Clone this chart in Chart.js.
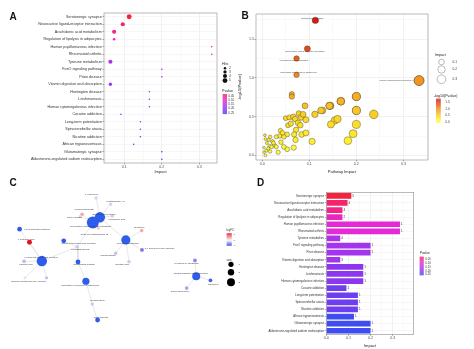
<!DOCTYPE html>
<html>
<head>
<meta charset="utf-8">
<script src="https://cdn.jsdelivr.net/npm/chart.js@4.4.0/dist/chart.umd.min.js"></script>
<style>
  body { margin: 0; background: #fff; width: 474px; height: 349px; overflow: hidden; position: relative; }
  canvas { position: absolute; }
</style>
</head>
<body>
<canvas id="chartA" width="237" height="175" style="left:0;top:0"></canvas>
<canvas id="chartB" width="237" height="175" style="left:237px;top:0"></canvas>
<canvas id="chartC" width="245" height="174" style="left:0;top:175px"></canvas>
<canvas id="chartD" width="237" height="174" style="left:237px;top:175px"></canvas>
<script>
// ---- enrichment results (panels A, B, D) ----
const pathways = [
  'Serotonergic synapse', 'Neuroactive ligand-receptor interaction', 'Arachidonic acid metabolism',
  'Regulation of lipolysis in adipocytes', 'Human papillomavirus infection', 'Rheumatoid arthritis',
  'Tyrosine metabolism', 'FoxO signaling pathway', 'Prion disease', 'Vitamin digestion and absorption',
  'Huntington disease', 'Leishmaniasis', 'Human cytomegalovirus infection', 'Cocaine addiction',
  'Long-term potentiation', 'Spinocerebellar ataxia', 'Nicotine addiction', 'African trypanosomiasis',
  'Glutamatergic synapse', 'Aldosterone-regulated sodium reabsorption'
];
const impact = [0.113, 0.096, 0.073, 0.073, 0.333, 0.333, 0.063, 0.2, 0.2, 0.063,
  0.167, 0.167, 0.167, 0.091, 0.143, 0.143, 0.143, 0.125, 0.2, 0.2];
const pvalue = [0.018, 0.042, 0.056, 0.091, 0.108, 0.108, 0.162, 0.174, 0.174, 0.174,
  0.2, 0.2, 0.2, 0.229, 0.229, 0.229, 0.229, 0.263, 0.263, 0.263];
const hits = [5, 4, 4, 2, 1, 1, 4, 1, 1, 3, 1, 1, 1, 1, 1, 1, 1, 1, 1, 1];
const hitsBreaks = [2, 3, 4, 5];
const pvalueBreaks = [0.05, 0.10, 0.15, 0.20, 0.25];

// panel B: the other (unlabelled) pathways
const otherImpact = [0.154, 0.160, 0.146, 0.193, 0.182, 0.106, 0.112, 0.237,
  0.050, 0.058, 0.066, 0.070, 0.078, 0.083, 0.093, 0.055, 0.061, 0.076, 0.081, 0.072,
  0.068, 0.084, 0.093, 0.071, 0.067, 0.053, 0.046, 0.039, 0.043, 0.037, 0.030, 0.053,
  0.034, 0.026, 0.022, 0.030, 0.017, 0.014, 0.010, 0.016, 0.007, 0.006, 0.009, 0.004,
  0.007, 0.013, 0.020, 0.024, 0.046, 0.040, 0.004, 0.017, 0.087, 0.128, 0.145, 0.200];
const otherLogP = [0.45, 0.47, 0.40, 0.28, 0.19, 0.18, 0.53, 0.53,
  0.48, 0.49, 0.50, 0.47, 0.54, 0.49, 0.46, 0.39, 0.41, 0.42, 0.39, 0.33,
  0.27, 0.27, 0.29, 0.20, 0.10, 0.27, 0.24, 0.32, 0.29, 0.25, 0.24, 0.08,
  0.04, 0.13, 0.18, 0.11, 0.24, 0.20, 0.16, 0.12, 0.21, 0.26, 0.06, 0.04,
  0.00, 0.09, 0.11, 0.16, 0.11, 0.17, 0.10, 0.05, 0.53, 0.58, 0.64, 0.40];
const labelledInB = [0, 1, 2, 3, 4];
const impactBreaks = [0.1, 0.2, 0.3];
const logPBreaks = [1.5, 1.0, 0.5, 0.0];

// ---- panel C: compound / pathway network ----
const nodeNames = [
  'Serotonergic synapse', 'Neuroactive ligand-receptor interaction', 'Tyrosine metabolism',
  'Human papillomavirus infection', 'Vitamin digestion and absorption', 'Regulation of lipolysis in adipocytes',
  'FoxO signaling pathway', 'Human cytomegalovirus infection', 'Rheumatoid arthritis', 'Prion disease',
  'Riboflavin', '1-Undecene', 'Prostaglandin A2', 'Hexadecanedioate', 'Indoxyl sulfate',
  'Arachidonic acid', 'Delta 12-Prostaglandin J2', 'Serotonin', '3,4-Dihydroxyphenylacetate',
  'Homogentisate', 'Gentisic acid', 'L-Glutamic acid', 'Prostaglandin E2', 'Palmitic acid',
  'Nicotine', 'gamma-Glutamylglycine', 'Noradrenaline', "Pyridoxal 5'-phosphate", 'alpha-Tocopherol'
];
const nodeX = [98.7, 91.3, 126, 37.7, 200, 84, 14.3, 60.7, 75.7, 96.3,
  215, 94.7, 110, 80, 78, 111.7, 97, 142.7, 143, 115.3, 129.3, 24.7, 75, 19, 42.7, 20, 90.7, 198.7, 190];
const nodeY = [39, 44.7, 63.3, 86, 102.3, 107.7, 51.7, 64.3, 87, 149.3,
  106.7, 18.3, 25, 35.7, 38, 37.7, 50.7, 53.3, 74, 77.7, 86.7, 65.7, 70.7, 86.3, 104, 104, 132, 85.3, 115];
const nodeScore = [5, 6, 4.2, 5, 3.5, 3, 1.5, 1.5, 1.5, 1.5,
  0.8, 0.6, 0.6, 0.7, 0.5, 0.6, 0.5, 0.7, 0.9, 0.7, 0.7, 1.6, 0.7, 0.7, 0.6, 0.4, 0.7, 0.8, 0.8];
const nodeFC = [-1, -1, -1, -1, -1, -1, -1, -1, -1, -1,
  -0.9, -0.2, -0.2, 0.4, 0.15, -0.25, 0.2, 0.35, -0.55, -0.3, -0.25, 1.2, -0.25, -0.35, -0.3, -0.1, -0.25, -0.5, -0.4];
const edgeFrom = [0, 0, 0, 0, 0, 1, 1, 1, 1, 22, 22, 22, 8, 5, 26, 3, 3, 3, 3, 3, 2, 2, 2, 2, 4, 4, 4];
const edgeTo = [1, 11, 12, 15, 2, 13, 14, 16, 22, 3, 7, 8, 5, 26, 9, 6, 21, 23, 24, 25, 17, 18, 19, 20, 27, 28, 10];
const fcBreaks = [1, 0, -1];

const FONT = '"Liberation Sans", Arial, sans-serif';

function hexToRgb(h) {
  return [parseInt(h.slice(1, 3), 16), parseInt(h.slice(3, 5), 16), parseInt(h.slice(5, 7), 16)];
}
function rampColor(stops, v) {
  if (v <= stops[0][0]) return stops[0][1];
  for (let i = 1; i < stops.length; i++) {
    if (v <= stops[i][0]) {
      const t = (v - stops[i - 1][0]) / (stops[i][0] - stops[i - 1][0]);
      const a = hexToRgb(stops[i - 1][1]), b = hexToRgb(stops[i][1]);
      return `rgb(${a.map((c, k) => Math.round(c + (b[k] - c) * t)).join(',')})`;
    }
  }
  return stops[stops.length - 1][1];
}
const pStops = [[0.018, '#f5213d'], [0.06, '#f2248f'], [0.11, '#e22ad8'], [0.17, '#a733ee'], [0.22, '#7a3af0'], [0.263, '#3f4cf2']];
const logPStops = [[0, '#ffff3c'], [0.45, '#fbd926'], [0.75, '#f5ae24'], [1.0, '#f1901e'], [1.3, '#ea5418'], [1.75, '#d91616']];
const fcStops = [[-1, '#2e5ced'], [-0.6, '#7466e6'], [-0.3, '#c7c2f0'], [0, '#f4f2f8'], [0.4, '#f2a3a8'], [1.2, '#e8101e']];
const pColor = p => rampColor(pStops, p);
const logPColor = v => rampColor(logPStops, v);
const fcColor = v => rampColor(fcStops, v);
const hitRadius = h => h <= 1 ? 0.8 : 0.45 + h * 0.4;
const impactRadius = x => 0.85 + 7.1 * Math.sqrt(x);

function isMajor(v, step) {
  const k = v / step;
  return Math.abs(k - Math.round(k)) < 1e-6;
}
function linearAxis(step, major, extra) {
  return Object.assign({
    type: 'linear',
    ticks: {
      stepSize: step, includeBounds: false, autoSkip: false, maxRotation: 0, padding: 0.5,
      font: { family: FONT, size: 3.6 }, color: '#4d4d4d',
      callback: v => isMajor(v, major) ? v.toFixed(1) : ''
    },
    grid: {
      lineWidth: 0.5, tickLength: 1.5,
      color: ctx => isMajor(ctx.tick ? ctx.tick.value : 0, major) ? '#e2e2e2' : '#f2f2f2',
      tickColor: ctx => isMajor(ctx.tick ? ctx.tick.value : 0, major) ? '#555' : 'rgba(0,0,0,0)'
    },
    border: { display: false }
  }, extra);
}
function categoryAxis(fontSize, width) {
  return {
    type: 'category', labels: pathways, offset: true,
    afterFit: s => { s.width = width; },
    ticks: { autoSkip: false, padding: 0.8, font: { family: FONT, size: fontSize }, color: '#333' },
    grid: { offset: false, lineWidth: 0.5, tickLength: 1.5, color: '#eeeeee', tickColor: '#555' },
    border: { display: false }
  };
}
function axisTitle(text) {
  return { display: true, text: text, color: '#222', font: { family: FONT, size: 4 }, padding: { top: 0, bottom: 1 } };
}

const framePlugin = {
  id: 'frame',
  afterDatasetsDraw(chart) {
    const a = chart.chartArea, ctx = chart.ctx;
    ctx.save();
    ctx.strokeStyle = '#8c8c8c';
    ctx.lineWidth = 0.6;
    ctx.strokeRect(a.left, a.top, a.right - a.left, a.bottom - a.top);
    ctx.restore();
  }
};
function panelLetter(letter, x, y) {
  return {
    id: 'letter' + letter,
    afterDraw(chart) {
      const ctx = chart.ctx;
      ctx.save();
      ctx.fillStyle = '#111';
      ctx.font = `bold 10px ${FONT}`;
      ctx.fillText(letter, x, y);
      ctx.restore();
    }
  };
}
function gradientBar(ctx, x, y, w, h, stops, top, bottom) {
  for (let i = 0; i < h; i += 0.5) {
    ctx.fillStyle = rampColor(stops, top + (bottom - top) * (i / h));
    ctx.fillRect(x, y + i, w, 0.6);
  }
}
function smallText(ctx, text, x, y, size, align, color) {
  ctx.font = `${size}px ${FONT}`;
  ctx.textAlign = align || 'left';
  ctx.textBaseline = 'middle';
  ctx.fillStyle = color || '#333';
  ctx.fillText(text, x, y);
}

// ---------------- A: dot plot ----------------
new Chart(document.getElementById('chartA'), {
  type: 'scatter',
  data: {
    datasets: [{
      data: pathways.map((p, i) => ({ x: impact[i], y: p })),
      pointRadius: hits.map(hitRadius),
      backgroundColor: pvalue.map(pColor),
      borderWidth: 0
    }]
  },
  options: {
    responsive: false, animation: false, events: [],
    layout: { padding: { left: 0, right: 20, top: 13, bottom: 0 } },
    plugins: { legend: { display: false }, tooltip: { enabled: false } },
    scales: {
      x: linearAxis(0.05, 0.1, { min: 0.046, max: 0.347, afterFit: s => { s.height = 12; }, title: axisTitle('Impact') }),
      y: categoryAxis(3.7, 104)
    }
  },
  plugins: [framePlugin, panelLetter('A', 9.5, 20), {
    id: 'legendA',
    afterDraw(chart) {
      const ctx = chart.ctx;
      ctx.save();
      smallText(ctx, 'Hits', 222, 63.5, 3.6, 'left', '#222');
      const ys = [68.3, 71.9, 76, 80.6];
      hitsBreaks.forEach((h, i) => {
        ctx.fillStyle = '#111';
        ctx.beginPath();
        ctx.arc(225, ys[i], hitRadius(h), 0, Math.PI * 2);
        ctx.fill();
        smallText(ctx, String(h), 229, ys[i], 3.2);
      });
      smallText(ctx, 'Pvalue', 222, 90.5, 3.6, 'left', '#222');
      gradientBar(ctx, 222.7, 94, 4.3, 20, pStops, 0.03, 0.263);
      pvalueBreaks.forEach((p, i) => smallText(ctx, p.toFixed(2), 228.3, 95.7 + i * 4.25, 3.1));
      ctx.restore();
    }
  }]
});

// ---------------- B: pathway impact bubble plot ----------------
const bNamed = pathways.map((p, i) => ({ x: impact[i], y: -Math.log10(pvalue[i]) }));
const bOther = otherImpact.map((x, i) => ({ x: x, y: otherLogP[i] }));
const bLabelOffset = [[-3, -1.8, 'center'], [-2.5, 2.4, 'center'], [-3, 2.3, 'center'], [2, -2.4, 'center'], [-8, 0, 'right']];

new Chart(document.getElementById('chartB'), {
  type: 'scatter',
  data: {
    datasets: [
      {
        data: bNamed,
        pointRadius: impact.map(impactRadius),
        backgroundColor: bNamed.map(d => logPColor(d.y)),
        borderColor: '#3a3a3a', borderWidth: 0.4
      },
      {
        data: bOther,
        pointRadius: otherImpact.map(impactRadius),
        backgroundColor: otherLogP.map(logPColor),
        borderColor: '#3a3a3a', borderWidth: 0.4
      }
    ]
  },
  options: {
    responsive: false, animation: false, events: [],
    layout: { padding: { left: 0, right: 46, top: 14, bottom: 0 } },
    plugins: { legend: { display: false }, tooltip: { enabled: false } },
    scales: {
      x: linearAxis(0.05, 0.1, { min: -0.013, max: 0.352, afterFit: s => { s.height = 15; }, title: axisTitle('Pathway Impact') }),
      y: linearAxis(0.25, 0.5, { min: -0.06, max: 1.827, afterFit: s => { s.width = 19; }, title: axisTitle('-log10(Pvalue)') })
    }
  },
  plugins: [framePlugin, panelLetter('B', 4.5, 18.5), {
    id: 'labelsB',
    afterDatasetsDraw(chart) {
      const ctx = chart.ctx, xs = chart.scales.x, ys = chart.scales.y;
      ctx.save();
      labelledInB.forEach((idx, k) => {
        const px = xs.getPixelForValue(bNamed[idx].x), py = ys.getPixelForValue(bNamed[idx].y);
        const o = bLabelOffset[k];
        if (o[2] === 'right') {
          ctx.strokeStyle = '#777';
          ctx.lineWidth = 0.3;
          ctx.beginPath();
          ctx.moveTo(px + o[0], py);
          ctx.lineTo(px - impactRadius(impact[idx]), py);
          ctx.stroke();
        }
        smallText(ctx, pathways[idx], px + o[0], py + o[1], 2.3, o[2], '#444');
      });
      ctx.restore();
    }
  }, {
    id: 'legendB',
    afterDraw(chart) {
      const ctx = chart.ctx;
      ctx.save();
      smallText(ctx, 'Impact', 198, 55, 3.6, 'left', '#222');
      const ys = [62, 69.5, 79.3];
      impactBreaks.forEach((v, i) => {
        ctx.strokeStyle = '#555';
        ctx.lineWidth = 0.4;
        ctx.beginPath();
        ctx.arc(204.5, ys[i], impactRadius(v) * 0.92, 0, Math.PI * 2);
        ctx.stroke();
        smallText(ctx, v.toFixed(1), 215.5, ys[i], 3.2);
      });
      smallText(ctx, '-log10(Pvalue)', 197, 95.5, 3.6, 'left', '#222');
      gradientBar(ctx, 199, 98.7, 4.7, 23.8, logPStops, 1.75, 0);
      logPBreaks.forEach(v => smallText(ctx, v.toFixed(1), 208.3, 122 - v * 13.3, 3.1));
      ctx.restore();
    }
  }]
});

// ---------------- C: network ----------------
const cLabelPos = [[103, 36, 'center'], [89, 48.3, 'center'], [128, 66.7, 'center'], [37, 82.5, 'center'],
  [194, 99.3, 'center'], [78, 111.7, 'center'], [19.5, 52.3, 'left'], [76, 67.3, 'center'], [82, 90, 'center'],
  [100, 146, 'center'], [218, 110.7, 'center'], [90, 14.3, 'center'], [115, 22.3, 'center'], [82, 30, 'center'],
  [72, 38.5, 'center'], [116, 41, 'center'], [93, 57.3, 'center'], [140, 50, 'center'], [146, 72.7, 'left'],
  [107, 80.3, 'center'], [122, 90, 'center'], [21, 62.3, 'center'], [78, 73.5, 'center'], [21, 89, 'center'],
  [38, 107.3, 'center'], [19, 107.3, 'center'], [96, 128.3, 'center'], [190, 88.3, 'center'], [183, 118.3, 'center']];
const nodeRadius = s => 1.2 + 0.8 * s;

const edgeSets = edgeFrom.map((f, i) => ({
  data: [{ x: nodeX[f], y: nodeY[f] }, { x: nodeX[edgeTo[i]], y: nodeY[edgeTo[i]] }],
  showLine: true, borderColor: '#d9d9d9', borderWidth: 0.6, pointRadius: 0
}));

new Chart(document.getElementById('chartC'), {
  type: 'scatter',
  data: {
    datasets: [{
      data: nodeNames.map((n, i) => ({ x: nodeX[i], y: nodeY[i] })),
      pointRadius: nodeScore.map(nodeRadius),
      backgroundColor: nodeFC.map(fcColor),
      borderWidth: 0
    }].concat(edgeSets)
  },
  options: {
    responsive: false, animation: false, events: [],
    layout: { padding: 0 },
    plugins: { legend: { display: false }, tooltip: { enabled: false } },
    scales: {
      x: { type: 'linear', display: false, min: 0, max: 245 },
      y: { type: 'linear', display: false, min: 0, max: 174, reverse: true }
    }
  },
  plugins: [panelLetter('C', 9.5, 10.5), {
    id: 'labelsC',
    afterDatasetsDraw(chart) {
      const ctx = chart.ctx, xs = chart.scales.x, ys = chart.scales.y;
      ctx.save();
      nodeNames.forEach((n, i) => {
        const p = cLabelPos[i];
        smallText(ctx, n, xs.getPixelForValue(p[0]), ys.getPixelForValue(p[1]), 2.4, p[2], '#3a3a3a');
      });
      // legend
      smallText(ctx, 'logFC', 226.5, 55.7, 2.8, 'left', '#333');
      gradientBar(ctx, 226.7, 58.3, 5, 12.4, fcStops, 1.2, -1);
      fcBreaks.forEach((v, i) => smallText(ctx, String(v), 233.5, 59.5 + i * 5.5, 2.4));
      smallText(ctx, 'size', 226.5, 85.5, 2.8, 'left', '#333');
      [2.6, 3.2, 4].forEach((r, i) => {
        const y = [89.3, 97.3, 107.3][i];
        ctx.fillStyle = '#000';
        ctx.beginPath();
        ctx.arc(231, y, r, 0, Math.PI * 2);
        ctx.fill();
        smallText(ctx, String(i + 1), 238.5, y, 2.4);
      });
      ctx.restore();
    }
  }]
});

// ---------------- D: bar chart ----------------
new Chart(document.getElementById('chartD'), {
  type: 'bar',
  data: {
    labels: pathways,
    datasets: [{
      data: impact,
      backgroundColor: pvalue.map(pColor),
      barPercentage: 0.8, categoryPercentage: 1
    }]
  },
  options: {
    indexAxis: 'y',
    responsive: false, animation: false, events: [],
    layout: { padding: { left: 0, right: 60.3, top: 17.3, bottom: 0 } },
    plugins: { legend: { display: false }, tooltip: { enabled: false } },
    scales: {
      x: linearAxis(0.05, 0.1, { min: 0, max: 0.395, afterFit: s => { s.height = 14.7; }, title: axisTitle('Impact') }),
      y: categoryAxis(2.9, 89.3)
    }
  },
  plugins: [framePlugin, panelLetter('D', 20, 10.5), {
    id: 'hitsD',
    afterDatasetsDraw(chart) {
      const ctx = chart.ctx, xs = chart.scales.x, ys = chart.scales.y;
      ctx.save();
      pathways.forEach((p, i) => {
        smallText(ctx, String(hits[i]), xs.getPixelForValue(impact[i]) + 1, ys.getPixelForValue(i), 3, 'left', '#333');
      });
      smallText(ctx, 'Pvalue', 182.7, 77.7, 3.3, 'left', '#222');
      gradientBar(ctx, 182.7, 81.7, 4, 18.3, pStops, 0.03, 0.263);
      pvalueBreaks.forEach((v, i) => smallText(ctx, v.toFixed(2), 188.3, 84.3 + i * 3.85, 2.8));
      ctx.restore();
    }
  }]
});
</script>
</body>
</html>
